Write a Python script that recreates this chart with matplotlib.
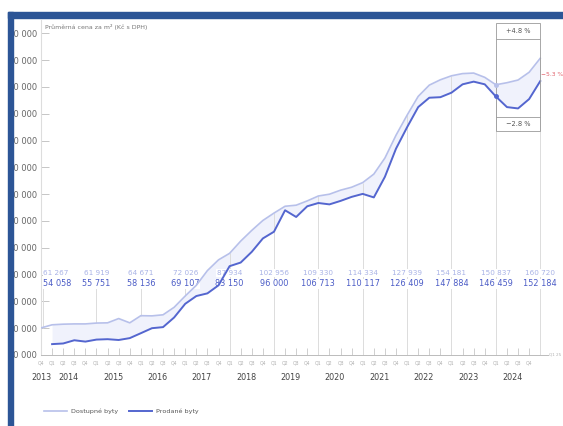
import numpy as np
import matplotlib
matplotlib.use("Agg")
import matplotlib.pyplot as plt
from matplotlib.patches import Rectangle
from matplotlib.lines import Line2D

# quarters from 2013 Q4 to 2025 Q1
periods = ["2013Q4"] + [f"{y}Q{q}" for y in range(2014, 2025) for q in range(1, 5)] + ["2025Q1"]
years = list(range(2013, 2025))

offered = [60100, 61267, 61500, 61600, 61600, 61919, 62000, 63600, 62000, 64671,
           64600, 65000, 67800, 72026, 76000, 81500, 85500, 87934, 92500, 96500,
           100200, 102956, 105500, 105900, 107500, 109330, 110000, 111500, 112600, 114334,
           117500, 123500, 132000, 139500, 146500, 150700, 152700, 154181, 155000, 155200,
           153600, 150837, 151600, 152600, 155500, 160720]
sold = [np.nan, 54058, 54300, 55500, 55000, 55751, 55900, 55600, 56300, 58136,
        60000, 60400, 64000, 69107, 72000, 73000, 76000, 83150, 84500, 88500,
        93500, 96000, 104000, 101500, 105500, 106713, 106200, 107500, 109000, 110117,
        108800, 116500, 127000, 135000, 142500, 146000, 146200, 147884, 151000, 152000,
        151000, 146459, 142500, 142000, 145500, 152184]

ann_idx = [1, 5, 9, 13, 17, 21, 25, 29, 33, 37, 41, 45]
ann_offered = ["61 267", "61 919", "64 671", "72 026", "87 934", "102 956", "109 330",
               "114 334", "127 939", "154 181", "150 837", "160 720"]
ann_sold = ["54 058", "55 751", "58 136", "69 107", "83 150", "96 000", "106 713",
            "110 117", "126 409", "147 884", "146 459", "152 184"]

c_off = "#b7c0ea"
c_sold = "#5466cf"
c_fill = "#f0f2fc"
c_grey = "#dcdcdc"
c_txt = "#666666"

W, H = 563, 426
fig = plt.figure(figsize=(W / 100, H / 100), dpi=100)
ax = fig.add_axes([41 / W, (H - 355) / H, 507 / W, 335 / H])

x = np.arange(len(periods))
off = np.array(offered, dtype=float)
sld = np.array(sold, dtype=float)

def yv(py):
    # pixel row -> data value
    return 50000 + (355 - py) * 125000 / 335

ax.fill_between(x, off, sld, where=~np.isnan(sld), color=c_fill, lw=0, zorder=1)
ax.plot(x, off, color=c_off, lw=1.2, zorder=6, solid_joinstyle="round")
ax.plot(x, sld, color=c_sold, lw=1.4, zorder=7, solid_joinstyle="round")

# vertical guide lines + value annotations
for n, to, ts in zip(ann_idx, ann_offered, ann_sold):
    tx, ha = n, "center"
    if n == 1:
        tx, ha = 0.2, "left"
        ax.vlines(0.2, yv(328), yv(287), color=c_grey, lw=0.7, zorder=2)
    elif n <= 13:
        ax.vlines(n, off[n], yv(287), color=c_grey, lw=0.7, zorder=2)
    else:
        ax.vlines(n, 50000, off[n], color=c_grey, lw=0.7, zorder=2)
    bb = dict(facecolor="white", edgecolor="none", pad=0.4)
    ax.text(tx, yv(273), to, ha=ha, va="center", fontsize=5.2, color="#a9b3e6", bbox=bb, zorder=4)
    ax.text(tx, yv(284), ts, ha=ha, va="center", fontsize=5.9, color="#4a5bc6", bbox=bb, zorder=4)

# comparison box on the right
xa, xb = 41, 45
ax.add_patch(Rectangle((xa, yv(131)), xb - xa, yv(23) - yv(131), fill=False, ec="#9a9a9a", lw=0.6, zorder=8))
ax.hlines([yv(39), yv(117)], xa, xb, color="#9a9a9a", lw=0.6, zorder=8)
ax.text((xa + xb) / 2, yv(31), "+4.8 %", ha="center", va="center", fontsize=4.8, color="#555555", zorder=9)
ax.text((xa + xb) / 2, yv(124), "\u22122.8 %", ha="center", va="center", fontsize=4.8, color="#555555", zorder=9)
ax.text(45.1, yv(74), "\u22125.3 %", ha="left", va="center", fontsize=4.3, color="#e0606a", zorder=9)
ax.plot([41], [off[41]], "o", ms=2.5, color=c_off, zorder=9)
ax.plot([41], [sld[41]], "o", ms=2.5, color=c_sold, zorder=9)

ax.set_xlim(0, 45.7)
ax.set_ylim(50000, 175000)
ticks = np.arange(50000, 170001, 10000)
ax.set_yticks(ticks)
ax.set_yticklabels([f"{t // 1000} 000" for t in ticks], fontsize=6, color=c_txt)
ax.tick_params(axis="y", direction="in", length=6, color="#bdbdbd", width=0.6, pad=3)
ax.set_xticks(x[:-1])
ax.set_xticklabels([])
ax.tick_params(axis="x", direction="in", length=5, color="#c8c8c8", width=0.6)
for s in ["top", "right"]:
    ax.spines[s].set_visible(False)
ax.spines["left"].set_color("#dddddd")
ax.spines["left"].set_linewidth(0.8)
ax.spines["bottom"].set_color("#bbbbbb")
ax.spines["bottom"].set_linewidth(0.7)

tr = ax.get_xaxis_transform()
for n, p in enumerate(periods[:-1]):
    ax.text(n, -0.024, p[-2:], transform=tr, ha="center", va="center", fontsize=3.3, color="#b0b0b0", clip_on=False)
for yr in years:
    pos = 0 if yr == 2013 else 2.5 + (yr - 2014) * 4
    ax.text(pos, -0.066, str(yr), transform=tr, ha="center", va="center", fontsize=5.8, color="#444444", clip_on=False)
ax.text(45.75, 0.0, "Q1 25", transform=tr, ha="left", va="center", fontsize=3.0, color="#b0b0b0", clip_on=False)

fig.text(45 / W, (H - 27) / H, "Pr\u016fm\u011brn\u00e1 cena za m\u00b2 (K\u010d s DPH)", fontsize=4.5, color="#777777", va="center")

handles = [Line2D([], [], color=c_off, lw=1.2), Line2D([], [], color=c_sold, lw=1.4)]
ax.legend(handles, ["Dostupn\u00e9 byty", "Prodan\u00e9 byty"], loc="center left",
          bbox_to_anchor=(38 / W, (H - 411) / H), bbox_transform=fig.transFigure,
          ncol=2, frameon=False, fontsize=4.6, handlelength=3.6, handletextpad=0.7,
          columnspacing=1.6, labelcolor="#555555")

# screenshot frame
fig.add_artist(Rectangle((0, 0), 8 / W, 1, transform=fig.transFigure, color="white", zorder=20))
fig.add_artist(Rectangle((0, (H - 12) / H), 1, 12 / H, transform=fig.transFigure, color="white", zorder=20))
fig.add_artist(Rectangle((8 / W, 0), 5 / W, (H - 12) / H, transform=fig.transFigure, color="#2c5596", zorder=21))
fig.add_artist(Rectangle((8 / W, (H - 18) / H), 1, 6 / H, transform=fig.transFigure, color="#2c5596", zorder=21))

fig.savefig("out.png", dpi=100)
